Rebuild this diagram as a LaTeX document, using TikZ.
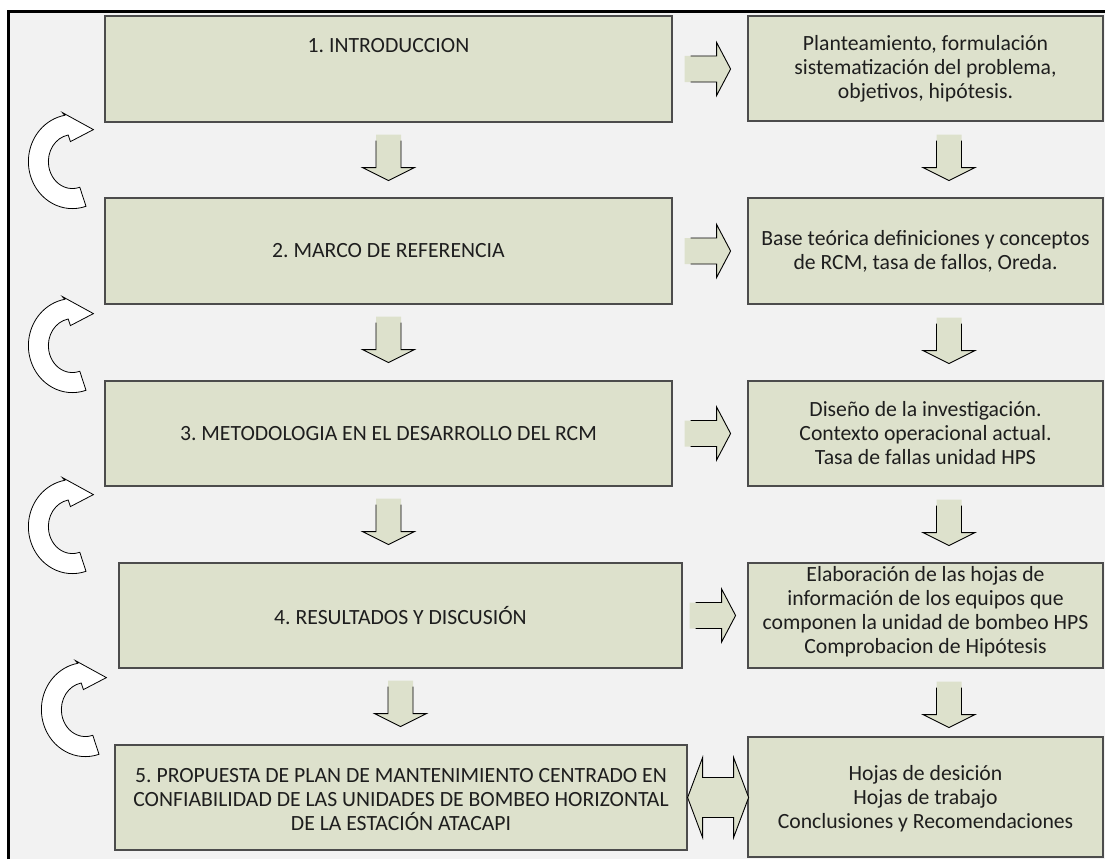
\documentclass[tikz,border=0pt]{standalone}
\usepackage{fontspec}
\setmainfont{Carlito}
\usepackage{xcolor}
\usepackage{tikz}
\usetikzlibrary{positioning,calc}
\frenchspacing

\definecolor{stagefill}{RGB}{221,225,204}
\definecolor{pagegray}{RGB}{242,242,242}
\definecolor{inkgray}{RGB}{30,30,30}

\tikzset{
    stagebox/.style={draw=black!70, line width=1.2pt, fill=stagefill, inner sep=0pt,
        align=center, text=inkgray, font=\fontsize{21.7}{#1}\selectfont},
    stagebox/.default=24,
    stagetext/.style={inner sep=0pt, align=center, text=inkgray, font=\fontsize{21.7}{#1}\selectfont},
    stagetext/.default=24,
    blockline/.style={draw=black, line width=0.9pt},
    downblock/.pic={
        \fill[stagefill] (-12.5,0) -- (-12.5,33) -- (-26,33) -- (0,46) -- (26,33) -- (12.5,33) -- (12.5,0) -- cycle;
        \draw[blockline] (-12.5,6) -- (-12.5,33) -- (-26,33) -- (0,46) -- (26,33) -- (12.5,33) -- (12.5,6);
    },
    rightblock/.pic={
        \fill[stagefill] (0,-13) -- (32,-13) -- (32,-26.5) -- (46,0) -- (32,26.5) -- (32,13) -- (0,13) -- cycle;
        \draw[blockline] (6,-13) -- (32,-13) -- (32,-26.5) -- (46,0) -- (32,26.5) -- (32,13) -- (6,13);
    },
    turnarrow/.pic={
        \filldraw[fill=white, draw=black, line width=0.8pt] (7.4,25.7) -- (13.6,44.7)
            arc[start angle=72, end angle=260, x radius=44, y radius=47]
            -- (-10,-49) -- (21,-32) -- (-2,-20) -- (-4.2,-26.6)
            arc[start angle=260, end angle=72, x radius=24, y radius=27] -- cycle;
    }
}

\begin{document}
\begin{tikzpicture}[x=1pt,y=-1pt]
    \useasboundingbox (0,0) rectangle (1105,859);

    % Page frame
    \fill[pagegray] (10,13) rectangle (1105,859);
    \draw[line width=3pt] (8.5,859) -- (8.5,11.5) -- (1105,11.5);

    % Chapters (left column)
    \node[stagebox, minimum width=567pt, minimum height=106pt] (L1) at (388.5,69) {};
    \node[stagetext] (L1text) at ($(L1.north)+(0,30)$) {1. INTRODUCCION};
    \node[stagebox, minimum width=567pt, minimum height=106pt] (L2) at (388.5,251) {2. MARCO DE REFERENCIA};
    \node[stagebox, minimum width=567pt, minimum height=105pt] (L3) at (388.5,433.5) {3. METODOLOGIA EN EL DESARROLLO DEL RCM};
    \node[stagebox, minimum width=563pt, minimum height=105pt] (L4) at (400.5,615.5) {4. RESULTADOS Y DISCUSIÓN};
    \node[stagebox, minimum width=572pt, minimum height=105pt] (L5) at (401,797.5) {};
    \node[stagetext] (L5text) at ($(L5.center)+(0,2.5)$)
        {5. PROPUESTA DE PLAN DE MANTENIMIENTO CENTRADO EN\\CONFIABILIDAD DE LAS UNIDADES DE BOMBEO HORIZONTAL\\DE LA ESTACIÓN ATACAPI};

    % Contents (right column)
    \node[stagebox, minimum width=355pt, minimum height=105pt] (R1) at (925.5,68.5)
        {Planteamiento, formulación\\sistematización del problema,\\objetivos, hipótesis.};
    \node[stagebox, minimum width=355pt, minimum height=106pt] (R2) at (925.5,251)
        {Base teórica definiciones y conceptos\\de RCM, tasa de fallos, Oreda.};
    \node[stagebox, minimum width=355pt, minimum height=105pt] (R3) at (925.5,433.5)
        {Diseño de la investigación.\\Contexto operacional actual.\\Tasa de fallas unidad HPS};
    \node[stagebox, minimum width=355pt, minimum height=105pt] (R4) at (925.5,615.5) {};
    \node[stagetext] (R4text) at ($(R4.center)+(0,-4)$)
        {Elaboración de las hojas de\\información de los equipos que\\componen la unidad de bombeo HPS\\Comprobacion de Hipótesis};
    \node[stagebox, minimum width=355pt, minimum height=120pt] (R5) at (925.5,797) {};
    \node[stagetext] (R5text) at ($(R5.center)+(0,2)$)
        {Hojas de desición\\Hojas de trabajo\\Conclusiones y Recomendaciones};

    % Down arrows
    \pic at ($(L1.south)+(0,12)$) {downblock};
    \pic at ($(L2.south)+(0,12)$) {downblock};
    \pic at ($(L3.south)+(0,12)$) {downblock};
    \pic at ($(L4.south)+(0,12)$) {downblock};
    \pic at ($(R1.south)+(23.5,13)$) {downblock};
    \pic at ($(R2.south)+(23.5,13)$) {downblock};
    \pic at ($(R3.south)+(23.5,13)$) {downblock};
    \pic at ($(R4.south)+(23.5,13)$) {downblock};

    % Right arrows
    \pic at ($(L1.east)+(12,0)$) {rightblock};
    \pic at ($(L2.east)+(12,0)$) {rightblock};
    \pic at ($(L3.east)+(12,0)$) {rightblock};
    \pic at ($(L4.east)+(7,0)$) {rightblock};

    % Double arrow
    \filldraw[fill=stagefill, blockline] (L5.east) -- ++(15,-40) -- ++(0,20) -- ++(31,0) -- ++(0,-20)
        -- ++(15,40) -- ++(-15,40) -- ++(0,-20) -- ++(-31,0) -- ++(0,20) -- cycle;

    % Feedback arrows
    \pic at ($(L1.south west)+(-32,39)$) {turnarrow};
    \pic at ($(L2.south west)+(-32,41)$) {turnarrow};
    \pic at ($(L3.south west)+(-32,40)$) {turnarrow};
    \pic at ($(L4.south west)+(-33,41)$) {turnarrow};
\end{tikzpicture}
\end{document}
